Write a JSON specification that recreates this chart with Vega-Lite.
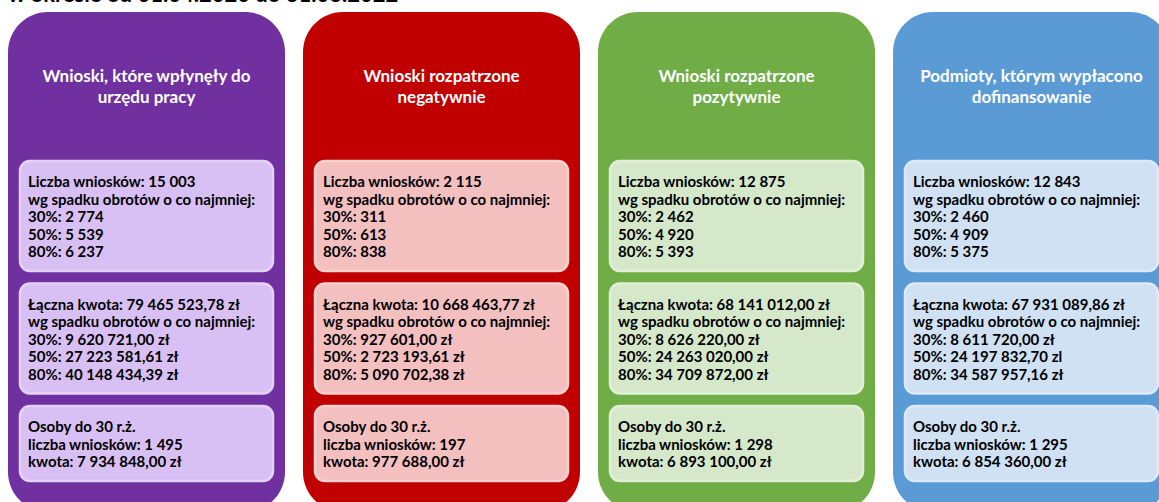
{
  "$schema": "https://vega.github.io/schema/vega-lite/v6.json",
  "width": 1159,
  "height": 502,
  "padding": 0,
  "autosize": "none",
  "background": "white",
  "config": {"view": {"stroke": null}, "font": "Lato"},
  "title": {"text": "w okresie od 01.04.2020 do 31.03.2022", "anchor": "start", "frame": "group", "offset": -7, "dx": 8, "fontSize": 22, "font": "Lato", "fontWeight": "bold", "color": "#000000"},
  "datasets": {
    "lines": [
      {"panel": "wpłynęły", "section": "header", "line": 4, "text": "Wnioski, które wpłynęły do"},
      {"panel": "wpłynęły", "section": "header", "line": 5, "text": "urzędu pracy"},
      {"panel": "wpłynęły", "section": "liczba", "line": 10, "text": "Liczba wniosków: 15 003"},
      {"panel": "wpłynęły", "section": "liczba", "line": 11, "text": "wg spadku obrotów o co najmniej:"},
      {"panel": "wpłynęły", "section": "liczba", "line": 12, "text": "30%: 2 774"},
      {"panel": "wpłynęły", "section": "liczba", "line": 13, "text": "50%: 5 539"},
      {"panel": "wpłynęły", "section": "liczba", "line": 14, "text": "80%: 6 237"},
      {"panel": "wpłynęły", "section": "kwota", "line": 17, "text": "Łączna kwota: 79 465 523,78 zł"},
      {"panel": "wpłynęły", "section": "kwota", "line": 18, "text": "wg spadku obrotów o co najmniej:"},
      {"panel": "wpłynęły", "section": "kwota", "line": 19, "text": "30%:  9 620 721,00 zł"},
      {"panel": "wpłynęły", "section": "kwota", "line": 20, "text": "50%: 27 223 581,61 zł"},
      {"panel": "wpłynęły", "section": "kwota", "line": 21, "text": "80%: 40 148 434,39 zł"},
      {"panel": "wpłynęły", "section": "osoby", "line": 24, "text": "Osoby do 30 r.ż."},
      {"panel": "wpłynęły", "section": "osoby", "line": 25, "text": "liczba wniosków: 1 495"},
      {"panel": "wpłynęły", "section": "osoby", "line": 26, "text": "kwota: 7 934 848,00 zł"},

      {"panel": "negatywne", "section": "header", "line": 4, "text": "Wnioski rozpatrzone"},
      {"panel": "negatywne", "section": "header", "line": 5, "text": "negatywnie"},
      {"panel": "negatywne", "section": "liczba", "line": 10, "text": "Liczba wniosków: 2 115"},
      {"panel": "negatywne", "section": "liczba", "line": 11, "text": "wg spadku obrotów o co najmniej:"},
      {"panel": "negatywne", "section": "liczba", "line": 12, "text": "30%: 311"},
      {"panel": "negatywne", "section": "liczba", "line": 13, "text": "50%: 613"},
      {"panel": "negatywne", "section": "liczba", "line": 14, "text": "80%: 838"},
      {"panel": "negatywne", "section": "kwota", "line": 17, "text": "Łączna kwota: 10 668 463,77 zł"},
      {"panel": "negatywne", "section": "kwota", "line": 18, "text": "wg spadku obrotów o co najmniej:"},
      {"panel": "negatywne", "section": "kwota", "line": 19, "text": "30%:  927 601,00 zł"},
      {"panel": "negatywne", "section": "kwota", "line": 20, "text": "50%: 2 723 193,61 zł"},
      {"panel": "negatywne", "section": "kwota", "line": 21, "text": "80%: 5 090 702,38 zł"},
      {"panel": "negatywne", "section": "osoby", "line": 24, "text": "Osoby do 30 r.ż."},
      {"panel": "negatywne", "section": "osoby", "line": 25, "text": "liczba wniosków: 197"},
      {"panel": "negatywne", "section": "osoby", "line": 26, "text": "kwota: 977 688,00 zł"},

      {"panel": "pozytywne", "section": "header", "line": 4, "text": "Wnioski rozpatrzone"},
      {"panel": "pozytywne", "section": "header", "line": 5, "text": "pozytywnie"},
      {"panel": "pozytywne", "section": "liczba", "line": 10, "text": "Liczba wniosków: 12 875"},
      {"panel": "pozytywne", "section": "liczba", "line": 11, "text": "wg spadku obrotów o co najmniej:"},
      {"panel": "pozytywne", "section": "liczba", "line": 12, "text": "30%: 2 462"},
      {"panel": "pozytywne", "section": "liczba", "line": 13, "text": "50%: 4 920"},
      {"panel": "pozytywne", "section": "liczba", "line": 14, "text": "80%: 5 393"},
      {"panel": "pozytywne", "section": "kwota", "line": 17, "text": "Łączna kwota: 68 141 012,00 zł"},
      {"panel": "pozytywne", "section": "kwota", "line": 18, "text": "wg spadku obrotów o co najmniej:"},
      {"panel": "pozytywne", "section": "kwota", "line": 19, "text": "30%:  8 626 220,00 zł"},
      {"panel": "pozytywne", "section": "kwota", "line": 20, "text": "50%: 24 263 020,00 zł"},
      {"panel": "pozytywne", "section": "kwota", "line": 21, "text": "80%: 34 709 872,00 zł"},
      {"panel": "pozytywne", "section": "osoby", "line": 24, "text": "Osoby do 30 r.ż."},
      {"panel": "pozytywne", "section": "osoby", "line": 25, "text": "liczba wniosków: 1 298"},
      {"panel": "pozytywne", "section": "osoby", "line": 26, "text": "kwota: 6 893 100,00 zł"},

      {"panel": "wypłacone", "section": "header", "line": 4, "text": "Podmioty, którym wypłacono"},
      {"panel": "wypłacone", "section": "header", "line": 5, "text": "dofinansowanie"},
      {"panel": "wypłacone", "section": "liczba", "line": 10, "text": "Liczba wniosków: 12 843"},
      {"panel": "wypłacone", "section": "liczba", "line": 11, "text": "wg spadku obrotów o co najmniej:"},
      {"panel": "wypłacone", "section": "liczba", "line": 12, "text": "30%: 2 460"},
      {"panel": "wypłacone", "section": "liczba", "line": 13, "text": "50%: 4 909"},
      {"panel": "wypłacone", "section": "liczba", "line": 14, "text": "80%: 5 375"},
      {"panel": "wypłacone", "section": "kwota", "line": 17, "text": "Łączna kwota: 67 931 089,86 zł"},
      {"panel": "wypłacone", "section": "kwota", "line": 18, "text": "wg spadku obrotów o co najmniej:"},
      {"panel": "wypłacone", "section": "kwota", "line": 19, "text": "30%: 8 611 720,00 zł"},
      {"panel": "wypłacone", "section": "kwota", "line": 20, "text": "50%: 24 197 832,70 zl"},
      {"panel": "wypłacone", "section": "kwota", "line": 21, "text": "80%: 34 587 957,16 zł"},
      {"panel": "wypłacone", "section": "osoby", "line": 24, "text": "Osoby do 30 r.ż."},
      {"panel": "wypłacone", "section": "osoby", "line": 25, "text": "liczba wniosków: 1 295"},
      {"panel": "wypłacone", "section": "osoby", "line": 26, "text": "kwota: 6 854 360,00 zł"}
    ]
  },
  "data": {"name": "lines"},
  "encoding": {
    "x": {"field": "panel", "type": "nominal", "sort": null, "axis": null,
          "scale": {"range": [8, 1170], "paddingInner": 0.061, "paddingOuter": 0}}
  },
  "layer": [
    {
      "mark": {"type": "rect", "cornerRadius": 40, "yOffset": -65, "y2Offset": 50},
      "encoding": {
        "y": {"aggregate": "min", "field": "line", "type": "quantitative", "axis": null,
              "scale": {"domain": [-0.4, 28.2857], "reverse": true, "zero": false, "nice": false}},
        "y2": {"aggregate": "max", "field": "line"},
        "fill": {"field": "panel", "type": "nominal", "sort": null, "legend": null,
                 "scale": {"domain": ["wpłynęły", "negatywne", "pozytywne", "wypłacone"],
                           "range": ["#7030A0", "#C00000", "#70AD47", "#5B9BD5"]}}
      }
    },
    {
      "transform": [{"filter": "datum.section !== 'header'"}],
      "mark": {"type": "rect", "cornerRadius": 10, "strokeWidth": 2.5, "width": {"band": 0.9134}, "yOffset": -21, "y2Offset": 19},
      "encoding": {
        "y": {"aggregate": "min", "field": "line", "type": "quantitative"},
        "y2": {"aggregate": "max", "field": "line"},
        "detail": {"field": "section"},
        "fill": {"field": "panel", "type": "nominal", "sort": null, "legend": null,
                 "scale": {"domain": ["wpłynęły", "negatywne", "pozytywne", "wypłacone"],
                           "range": ["#D9C0F4", "#F4BFBF", "#D6E8CA", "#D0E1F3"]}},
        "stroke": {"field": "panel", "type": "nominal", "sort": null, "legend": null,
                   "scale": {"domain": ["wpłynęły", "negatywne", "pozytywne", "wypłacone"],
                             "range": ["#E3D2F7", "#F7D0D0", "#E1EFD8", "#DCE9F6"]}}
      }
    },
    {
      "transform": [{"filter": "datum.section !== 'header'"}],
      "mark": {"type": "text", "align": "left", "baseline": "middle", "dx": 20, "font": "Lato", "fontWeight": "bold", "fontSize": 15, "color": "#000000"},
      "encoding": {
        "x": {"field": "panel", "type": "nominal", "sort": null, "bandPosition": 0},
        "y": {"field": "line", "type": "quantitative"},
        "text": {"field": "text"}
      }
    },
    {
      "transform": [{"filter": "datum.section === 'header' && datum.line === 4"}],
      "mark": {"type": "text", "align": "center", "baseline": "middle", "dy": 0, "font": "Lato", "fontWeight": "bold", "fontSize": 17, "color": "#FFFFFF"},
      "encoding": {
        "x": {"field": "panel", "type": "nominal", "sort": null, "bandPosition": 0.5},
        "y": {"field": "line", "type": "quantitative"},
        "text": {"field": "text"}
      }
    },
    {
      "transform": [{"filter": "datum.section === 'header' && datum.line === 5"}],
      "mark": {"type": "text", "align": "center", "baseline": "middle", "dy": 3.5, "font": "Lato", "fontWeight": "bold", "fontSize": 17, "color": "#FFFFFF"},
      "encoding": {
        "x": {"field": "panel", "type": "nominal", "sort": null, "bandPosition": 0.5},
        "y": {"field": "line", "type": "quantitative"},
        "text": {"field": "text"}
      }
    }
  ],
  "resolve": {"scale": {"fill": "independent", "stroke": "independent"}}
}
